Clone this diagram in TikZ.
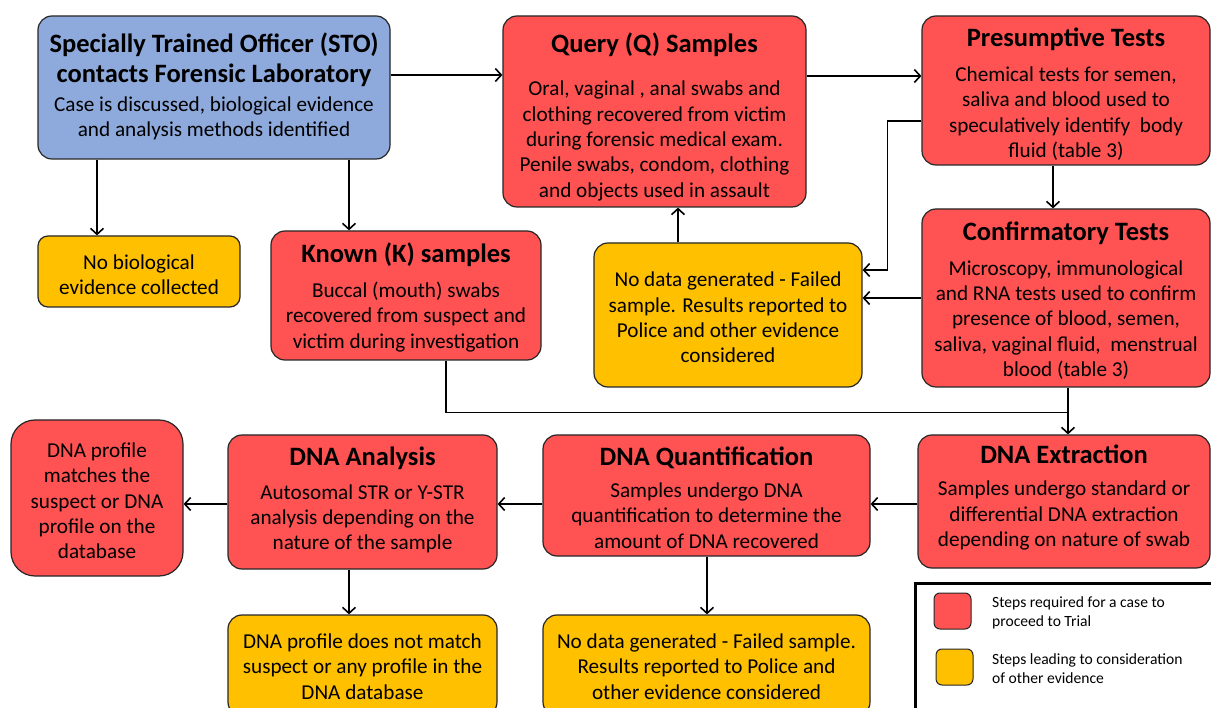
\documentclass[tikz,border=0pt]{standalone}
\usepackage{fontspec}
\setmainfont{Carlito}
\usetikzlibrary{arrows.meta,calc}
\definecolor{boxred}{HTML}{FF5252}
\definecolor{boxblue}{HTML}{8EA9DB}
\definecolor{boxorange}{HTML}{FFC000}
\definecolor{bdr}{HTML}{262626}
\begin{document}
\begin{tikzpicture}[x=1pt,y=-1pt,
  box/.style={draw=bdr, line width=1.2pt, rounded corners=14pt, inner sep=0pt, anchor=center},
  redbox/.style={box, fill=boxred},
  bluebox/.style={box, fill=boxblue},
  orangebox/.style={box, fill=boxorange},
  ttl/.style={font=\fontsize{26.5}{30}\selectfont\bfseries, align=center, inner sep=0pt, yshift=-1pt},
  txt/.style={font=\fontsize{21.2}{25.3}\selectfont, align=center, inner sep=0pt, yshift=-1.5pt},
  legtxt/.style={font=\fontsize{15.6}{19}\selectfont, align=left, inner sep=0pt, anchor=west},
  arr/.style={line width=1.6pt, -{Straight Barb[length=6pt,width=13pt,line width=1.6pt]}},
  ln/.style={line width=1.6pt}]
\useasboundingbox (0,0) rectangle (1211,708);

% boxes
\node[bluebox, minimum width=352pt, minimum height=143pt] (sto) at (214,87.5) {};
\node[redbox, minimum width=303pt, minimum height=191pt] (q) at (654.5,111.5) {};
\node[redbox, minimum width=288pt, minimum height=149pt] (pres) at (1066,90.5) {};
\node[orangebox, minimum width=202pt, minimum height=71pt, rounded corners=10pt] (nobio) at (139,271.5) {};
\node[redbox, minimum width=270pt, minimum height=129pt] (known) at (406,295.5) {};
\node[orangebox, minimum width=268pt, minimum height=144pt] (nodata) at (728,315) {};
\node[redbox, minimum width=288pt, minimum height=178pt] (conf) at (1066,298) {};
\node[redbox, minimum width=292pt, minimum height=133pt] (ext) at (1064,501.5) {};
\node[redbox, minimum width=327pt, minimum height=121pt] (quant) at (706.5,495.5) {};
\node[redbox, minimum width=269pt, minimum height=134pt] (ana) at (362.5,502) {};
\node[redbox, minimum width=172pt, minimum height=156pt, rounded corners=24pt] (match) at (97,498) {};
\node[orangebox, minimum width=269pt, minimum height=101pt] (nomatch) at (362.5,665.5) {};
\node[orangebox, minimum width=327pt, minimum height=101pt] (nodata2) at (706.5,665.5) {};

% texts
\node[ttl] (sto-t) at (214,59) {Specially Trained Officer (STO)\\contacts Forensic Laboratory};
\node[txt] (sto-b) at (214,117) {Case is discussed, biological evidence\\and analysis methods identified};
\node[ttl] (q-t) at (654.5,44) {Query (Q) Samples};
\node[txt] (q-b) at (654.5,139.5) {Oral, vaginal , anal swabs and\\clothing recovered from victim\\during forensic medical exam.\\Penile swabs, condom, clothing\\and objects used in assault};
\node[ttl] (pres-t) at (1066,38) {Presumptive Tests};
\node[txt] (pres-b) at (1066,112) {Chemical tests for semen,\\saliva and blood used to\\speculatively identify\ \ body\\fluid (table 3)};
\node[txt] (nobio-b) at (139,273.5) {No biological\\evidence collected};
\node[ttl] (known-t) at (406,254) {Known (K) samples};
\node[txt] (known-b) at (406,315.5) {Buccal (mouth) swabs\\recovered from suspect and\\victim during investigation};
\node[txt] (nodata-b) at (728,316) {No data generated - Failed\\sample. Results reported to\\Police and other evidence\\considered};
\node[ttl] (conf-t) at (1066,232) {Confirmatory Tests};
\node[txt] (conf-b) at (1066,318.5) {Microscopy, immunological\\and RNA tests used to confirm\\presence of blood, semen,\\saliva, vaginal fluid,\ \ menstrual\\blood (table 3)};
\node[ttl] (ext-t) at (1064,453) {DNA Extraction};
\node[txt] (ext-b) at (1064,514) {Samples undergo standard or\\differential DNA extraction\\depending on nature of swab};
\node[ttl] (quant-t) at (706.5,457) {DNA Quantification};
\node[txt] (quant-b) at (706.5,514) {Samples undergo DNA\\quantification to determine the\\amount of DNA recovered};
\node[ttl] (ana-t) at (362.5,457) {DNA Analysis};
\node[txt] (ana-b) at (362.5,517.5) {Autosomal STR or Y-STR\\analysis depending on the\\nature of the sample};
\node[txt] (match-b) at (97,499.5) {DNA profile\\matches the\\suspect or DNA\\profile on the\\database};
\node[txt] (nomatch-b) at (362.5,665) {DNA profile does not match\\suspect or any profile in the\\DNA database};
\node[txt] (nodata2-b) at (706.5,665) {No data generated - Failed sample.\\Results reported to Police and\\other evidence considered};

% legend
\draw[line width=3pt] (915,720) -- (915,583) -- (1215,583);
\node[redbox, minimum width=37pt, minimum height=36pt, rounded corners=6pt, line width=1pt] (leg-r) at (952.5,611) {};
\node[orangebox, minimum width=37pt, minimum height=36pt, rounded corners=6pt, line width=1pt] (leg-o) at (954.5,667) {};
\node[legtxt] (leg-rt) at (992,612.5) {Steps required for a case to\\proceed to Trial};
\node[legtxt] (leg-ot) at (992,668.5) {Steps leading to consideration\\of other evidence};

% connectors
\coordinate (c1) at ([yshift=12.5pt]sto.east);
\draw[arr] (c1) -- (c1 -| q.west);
\coordinate (c2) at ([yshift=35.5pt]q.east);
\draw[arr] (c2) -- (c2 -| pres.west);
\coordinate (c3) at ([xshift=-117pt]sto.south);
\draw[arr] (c3) -- (c3 |- nobio.north);
\coordinate (c4) at ([xshift=135pt]sto.south);
\draw[arr] (c4) -- (c4 |- known.north);
\coordinate (c5) at ([xshift=-13pt]pres.south);
\draw[arr] (c5) -- (c5 |- conf.north);
\coordinate (c6) at ([yshift=-30.5pt]pres.west);
\coordinate (d6) at ([yshift=45pt]nodata.east);
\draw[arr] (c6) -- ++(-34,0) |- (d6);
\draw[arr] (conf.west) -- (conf.west -| nodata.east);
\coordinate (c8) at ([xshift=-50pt]nodata.north);
\draw[arr] (c8) -- (c8 |- q.south);
\coordinate (c9) at ([xshift=40pt]known.south);
\coordinate (e9) at ([xshift=2pt]conf.south);
\coordinate (j9) at ([yshift=-25pt]e9);
\draw[ln] (c9) |- (j9);
\draw[arr] (e9) -- (e9 |- ext.north);
\coordinate (c10) at ([yshift=-2.5pt]ext.west);
\draw[arr] (c10) -- (c10 -| quant.east);
\coordinate (c11) at ([yshift=-8.5pt]quant.west);
\draw[arr] (c11) -- (c11 -| ana.east);
\coordinate (c12) at ([yshift=-2pt]ana.west);
\draw[arr] (c12) -- (c12 -| match.east);
\coordinate (c13) at ([xshift=-13.5pt]ana.south);
\draw[arr] (c13) -- (c13 |- nomatch.north);
\coordinate (c14) at ([xshift=0.5pt]quant.south);
\draw[arr] (c14) -- (c14 |- nodata2.north);
\end{tikzpicture}
\end{document}
